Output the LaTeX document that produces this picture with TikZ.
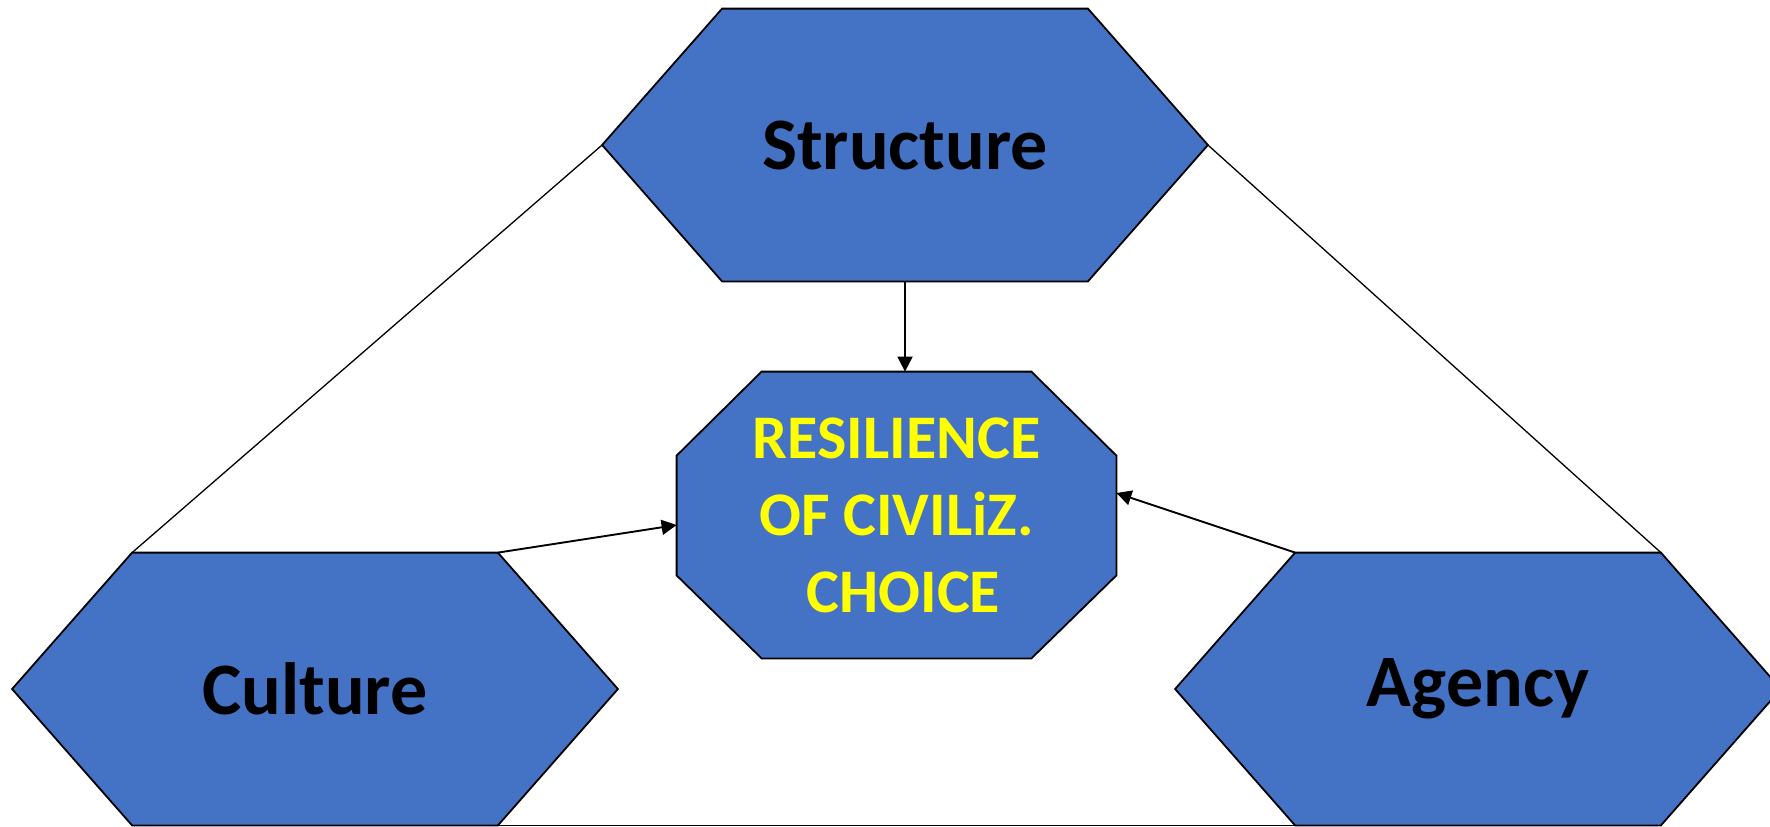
\documentclass[tikz,border=0pt]{standalone}
\usepackage{fontspec}
\setmainfont{Carlito}
\usepackage{xcolor}
\usepackage{tikz}
\usetikzlibrary{arrows.meta,positioning,calc,backgrounds}
\definecolor{boxblue}{HTML}{4472C4}
\definecolor{txtyellow}{HTML}{FFFF00}

\begin{document}
\begin{tikzpicture}[x=0.5pt, y=-0.5pt, >={Triangle[length=7.5pt,width=7.5pt]}]
\tikzstyle{hexa}=[minimum width=302.5pt, minimum height=136pt, inner sep=0pt, font=\bfseries\fontsize{37}{44}\selectfont]
\tikzstyle{octa}=[minimum width=219.5pt, minimum height=143pt, inner sep=0pt, align=center, text=txtyellow, font=\bfseries\fontsize{31}{38.5}\selectfont]
\tikzstyle{shp}=[fill=boxblue, draw=black, line width=0.9pt, line join=miter]
\tikzstyle{lnk}=[draw=black, line width=0.65pt]
\tikzstyle{arr}=[->, draw=black, line width=0.95pt]
\useasboundingbox (0,0) rectangle (1770,826);

\node[hexa] (struct) at (905,145) {Structure};
\node[hexa] (cult) at (315,689) {Culture};
\node[hexa] (agen) at (1478,689) {Agency};
\node[octa] (resil) at (896.5,515) {RESILIENCE\\OF CIVILiZ.\\\ CHOICE};

% hexagon corners
\foreach \n in {struct,cult,agen}{
  \coordinate (\n-nw) at ([xshift=60pt]\n.north west);
  \coordinate (\n-ne) at ([xshift=-60pt]\n.north east);
  \coordinate (\n-sw) at ([xshift=60pt]\n.south west);
  \coordinate (\n-se) at ([xshift=-60pt]\n.south east);
}

\begin{scope}[on background layer]
\foreach \n in {struct,cult,agen}
  \path[shp] (\n.west) -- (\n-nw) -- (\n-ne) -- (\n.east) -- (\n-se) -- (\n-sw) -- cycle;
\path[shp] ([yshift=-42pt]resil.north west) -- ([xshift=42.5pt]resil.north west) -- ([xshift=-42.5pt]resil.north east)
  -- ([yshift=-42pt]resil.north east) -- ([yshift=41.5pt]resil.south east) -- ([xshift=-42.5pt]resil.south east)
  -- ([xshift=42.5pt]resil.south west) -- ([yshift=41.5pt]resil.south west) -- cycle;
\end{scope}

\draw[lnk] (struct.west) -- (cult-nw);
\draw[lnk] (struct.east) -- (agen-ne);
\draw[lnk] (cult-se) -- (agen-sw);

\draw[arr] (struct.south) -- (struct.south |- resil.north);
\draw[arr] (cult-ne) -- ([yshift=-5pt]resil.west);
\draw[arr] (agen-nw) -- ([yshift=11pt]resil.east);
\end{tikzpicture}
\end{document}
